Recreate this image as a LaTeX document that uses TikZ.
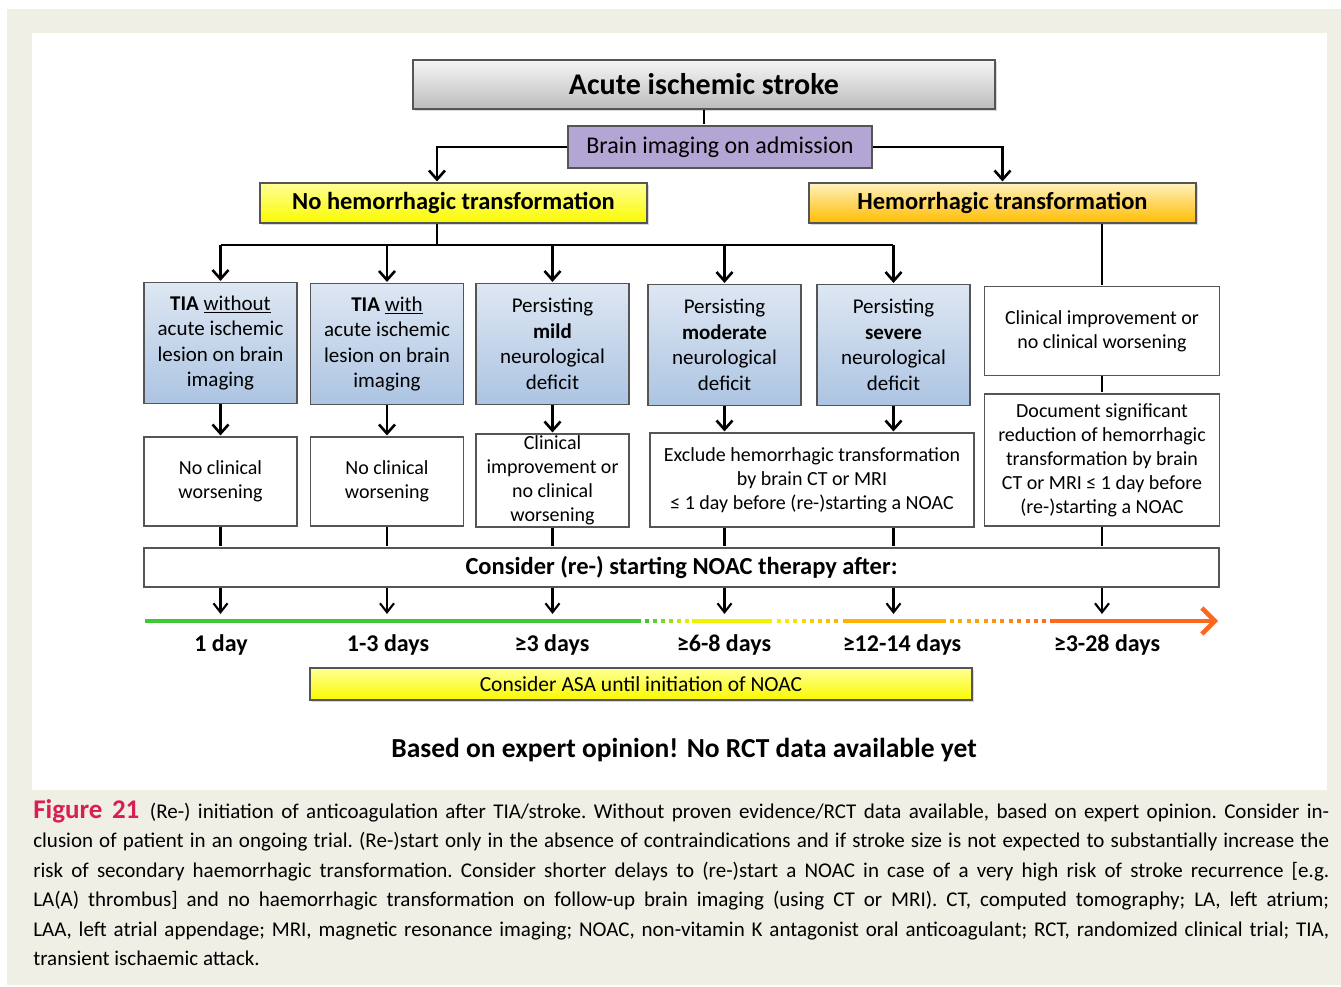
\documentclass[tikz,border=0pt]{standalone}
\usepackage{fontspec}
\setmainfont{Carlito}
\usepackage{xcolor}
\usetikzlibrary{arrows.meta, positioning, shadows}
\definecolor{pagebeige}{RGB}{239,239,229}
\definecolor{boxline}{RGB}{85,85,85}
\definecolor{graytop}{RGB}{246,246,246}
\definecolor{graybot}{RGB}{188,188,188}
\definecolor{imgpurple}{RGB}{180,166,212}
\definecolor{yeltop}{RGB}{255,255,150}
\definecolor{yelbot}{RGB}{250,250,0}
\definecolor{orgtop}{RGB}{255,242,190}
\definecolor{orgbot}{RGB}{255,188,0}
\definecolor{bluetop}{RGB}{222,231,243}
\definecolor{bluebot}{RGB}{172,196,226}
\definecolor{tlgreen}{RGB}{62,200,50}
\definecolor{tlyellow}{RGB}{242,242,0}
\definecolor{tlorange}{RGB}{255,178,0}
\definecolor{tlred}{RGB}{255,102,30}
\definecolor{figred}{RGB}{218,30,80}

\begin{document}
\begin{tikzpicture}[x=1pt, y=-1pt,
        >={Straight Barb[length=9pt,width=16pt]},
        shorten >=1pt,
        line width=2.6pt,
        box/.style={draw=boxline, line width=1.1pt, align=center, inner sep=2pt},
        shade/.style={drop shadow={opacity=0.3, shadow xshift=2pt, shadow yshift=-2pt}},
        bluebox/.style={box, top color=bluetop, bottom color=bluebot,
            minimum width=153pt, minimum height=121pt,
            font=\fontsize{21}{25.5}\selectfont},
        whitebox/.style={box, fill=white, minimum width=153pt, minimum height=89pt,
            font=\fontsize{20}{24}\selectfont},
        daylabel/.style={font=\bfseries\fontsize{24}{28}\selectfont},
        tl/.style={line width=4.5pt, shorten >=0pt},
        thinarrow/.style={line width=2.1pt, ->, >={Straight Barb[length=9pt,width=14pt]}}]
    \useasboundingbox (0,0) rectangle (1341,987);
    \fill[pagebeige] (7,9) rectangle (1341,985);
    \fill[white] (32,33) rectangle (1327,790);

    % top of the tree
    \node[box, shade, top color=graytop, bottom color=graybot, minimum width=582pt, minimum height=49pt,
        font=\bfseries\fontsize{30}{34}\selectfont] at (704,84.5) (stroke) {Acute ischemic stroke};
    \node[box, fill=imgpurple, minimum width=304pt, minimum height=42pt,
        font=\fontsize{24}{28}\selectfont] at (720,147) (imaging) {Brain imaging on admission};
    \node[box, shade, top color=yeltop, bottom color=yelbot, minimum width=387pt, minimum height=40pt,
        font=\bfseries\fontsize{24.5}{28}\selectfont] at (453.5,203) (nohem) {No hemorrhagic transformation};
    \node[box, shade, top color=orgtop, bottom color=orgbot, minimum width=387pt, minimum height=40pt,
        font=\bfseries\fontsize{24.5}{28}\selectfont] at (1002.5,203) (hem) {Hemorrhagic transformation};

    % patient groups
    \node[bluebox] at (220.5,343) (tianot) {\textbf{TIA} \underline{without}\\acute ischemic\\lesion on brain\\imaging};
    \node[bluebox] at (387,344) (tiawith) {\textbf{TIA} \underline{with}\\acute ischemic\\lesion on brain\\imaging};
    \node[bluebox] at (552.5,344) (mild) {Persisting\\\textbf{mild}\\neurological\\deficit};
    \node[bluebox] at (724.5,345) (moderate) {Persisting\\\textbf{moderate}\\neurological\\deficit};
    \node[bluebox] at (893.5,345) (severe) {Persisting\\\textbf{severe}\\neurological\\deficit};
    \node[whitebox, minimum width=235pt, minimum height=89pt] at (1102,331) (improve) {Clinical improvement or\\no clinical worsening};
    \node[whitebox, minimum width=235pt, minimum height=132pt] at (1102,460) (document) {Document significant\\reduction of hemorrhagic\\transformation by brain\\CT or MRI ≤ 1 day before\\(re-)starting a NOAC};

    % conditions
    \node[whitebox] at (220.5,481.5) (worseA) {No clinical\\worsening};
    \node[whitebox] at (387,481.5) (worseB) {No clinical\\worsening};
    \node[whitebox, minimum height=93pt, inner ysep=0pt] at (552.5,480.5) (worseC) {Clinical\\improvement or\\no clinical\\worsening};
    \node[whitebox, minimum width=324pt, minimum height=94pt] at (812,480) (exclude) {Exclude hemorrhagic transformation\\by brain CT or MRI\\≤ 1 day before (re-)starting a NOAC};
    \node[whitebox, minimum width=1075pt, minimum height=39pt,
        font=\bfseries\fontsize{24.5}{28}\selectfont] at (681.5,567.5) (consider) {Consider (re-) starting NOAC therapy after:};

    % connectors
    \coordinate (split) at (437,245);
    \coordinate (tick) at (0,615);
    \draw (stroke.south -| 704,0) -- (imaging.north -| 704,0);
    \draw[->] (imaging.west) -| (split |- nohem.north);
    \draw[->] (imaging.east) -| (hem.north);
    \draw (split |- nohem.south) -- (split);
    \draw (split -| tianot.north) -- (split -| severe.north);
    \foreach \n in {tianot, tiawith, mild, moderate, severe}
        \draw[->] (split -| \n.north) -- (\n.north);
    \draw (improve.north |- hem.south) -- (improve.north);
    \draw (improve.south) -- (document.north);
    \draw[->] (tianot.south) -- (worseA.north);
    \draw[->] (tiawith.south) -- (worseB.north);
    \draw[->] (mild.south) -- (worseC.north);
    \draw[->] (moderate.south) -- (moderate.south |- exclude.north);
    \draw[->] (severe.south) -- (severe.south |- exclude.north);
    \foreach \n in {worseA, worseB, worseC, document}
        \draw (\n.south) -- (\n.south |- consider.north);
    \foreach \n in {moderate, severe}
        \draw (exclude.south -| \n.south) -- (consider.north -| \n.south);
    \foreach \n in {worseA, worseB, worseC, moderate, severe, document}
        \draw[thinarrow] (consider.south -| \n.south) -- (tick -| \n.south);

    % time line
    \draw[tl, tlgreen] (145,621) -- (641,621);
    \foreach \k in {0,...,5} {
        \pgfmathtruncatemacro{\pct}{100-18*\k}
        \draw[tl, tlgreen!\pct!tlyellow] (645+8*\k,621) -- ++(4,0);
    }
    \draw[tl, tlyellow] (692,621) -- (772,621);
    \foreach \k in {0,...,7} {
        \pgfmathtruncatemacro{\pct}{100-13*\k}
        \draw[tl, tlyellow!\pct!tlorange] (777+8.2*\k,621) -- ++(4,0);
    }
    \draw[tl, tlorange] (843,621) -- (946,621);
    \foreach \k in {0,...,11} {
        \pgfmathtruncatemacro{\pct}{100-8*\k}
        \draw[tl, tlorange!\pct!tlred] (950+8.4*\k,621) -- ++(4,0);
    }
    \draw[tl, tlred, -{Straight Barb[length=13pt,width=26pt]}] (1050,621) -- (1218,621);

    \node[daylabel] at (221,645) (day1) {1 day};
    \node[daylabel] at (388,645) (day2) {1-3 days};
    \node[daylabel] at (552,645) (day3) {≥3 days};
    \node[daylabel] at (724,645) (day4) {≥6-8 days};
    \node[daylabel] at (902,645) (day5) {≥12-14 days};
    \node[daylabel] at (1107,645) (day6) {≥3-28 days};

    \node[box, shade, top color=yeltop, bottom color=yelbot, minimum width=662pt, minimum height=32pt,
        font=\fontsize{21.5}{25}\selectfont] at (641,684) (asa) {Consider ASA until initiation of NOAC};
    \node[font=\bfseries\fontsize{27.5}{32}\selectfont] at (684,750) (expert) {Based on expert opinion! No RCT data available yet};

    % caption
    \node[anchor=north west, inner sep=0pt, text width=1296pt, align=justify,
        font=\fontsize{21}{29.5}\selectfont] at (32,798) (caption)
        {\frenchspacing\hyphenpenalty=10000{\color{figred}\bfseries\fontsize{27}{29.5}\selectfont Figure 21}\enspace (Re-) initiation of anticoagulation after TIA/stroke. Without proven evidence/RCT data available, based on expert opinion. Consider in-\linebreak
        clusion of patient in an ongoing trial. (Re-)start only in the absence of contraindications and if stroke size is not expected to substantially increase the\linebreak
        risk of secondary haemorrhagic transformation. Consider shorter delays to (re-)start a NOAC in case of a very high risk of stroke recurrence [e.g.\linebreak
        LA(A) thrombus] and no haemorrhagic transformation on follow-up brain imaging (using CT or MRI). CT, computed tomography; LA, left atrium;\linebreak
        LAA, left atrial appendage; MRI, magnetic resonance imaging; NOAC, non-vitamin K antagonist oral anticoagulant; RCT, randomized clinical trial; TIA,\linebreak
        transient ischaemic attack.};
\end{tikzpicture}
\end{document}
